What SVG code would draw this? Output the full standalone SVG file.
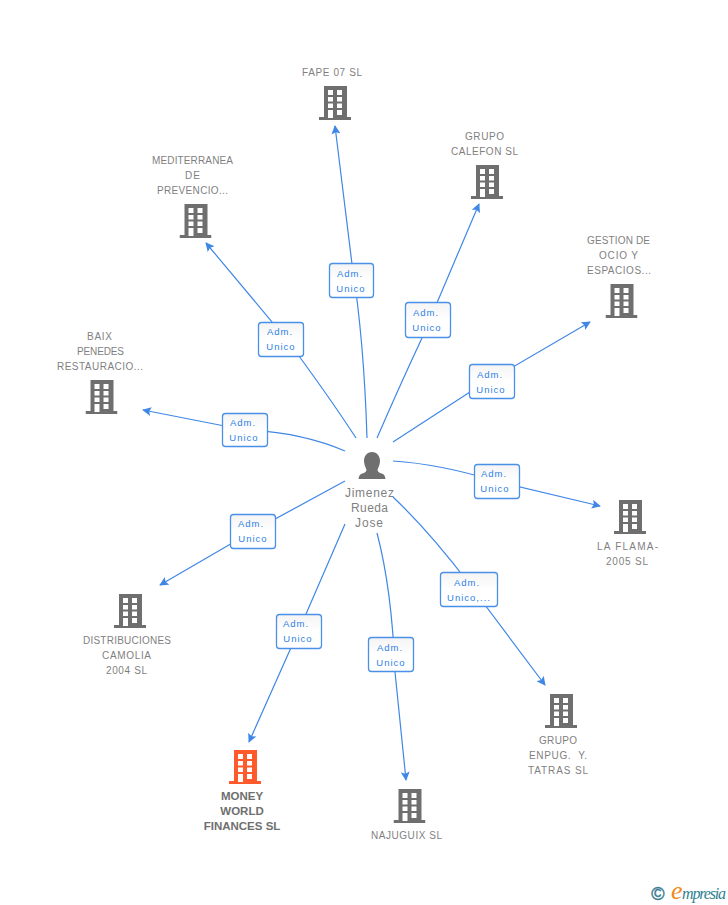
<svg xmlns="http://www.w3.org/2000/svg" width="728" height="905" viewBox="0 0 728 905">
<style>
text{font-family:"Liberation Sans",Arial,sans-serif}
.n{font-size:10px;fill:#7f7f7f;text-anchor:middle;white-space:pre}
.b{font-size:11.5px;font-weight:bold;fill:#6f6f6f;text-anchor:middle}
.p{font-size:12px;fill:#7f7f7f;text-anchor:middle}
.l{font-size:9.5px;fill:#2f7fe6;text-anchor:middle;letter-spacing:1px}
.c{fill:none;stroke:#3f87e6;stroke-width:1.2;marker-end:url(#a)}
.r{fill:url(#g);stroke:#4a90e8;stroke-width:1.3}
</style>
<defs>
<linearGradient id="g" x1="0" y1="0" x2="0" y2="1"><stop offset="0" stop-color="#f4f4f4"/><stop offset=".5" stop-color="#fff"/><stop offset="1" stop-color="#fff"/></linearGradient>
<marker id="a" viewBox="0 0 10 10" refX="9" refY="5" markerWidth="9" markerHeight="9" markerUnits="userSpaceOnUse" orient="auto"><path d="M0 0L10 5L0 10L2 5Z" fill="#3f87e6"/></marker>
<symbol id="bld" width="32" height="34" viewBox="0 0 32 34">
<path fill-rule="evenodd" d="M5 0H28V31H32V34H0V31H5ZM9 4V9H14V4ZM18 4V9H23V4ZM9 11V15.500H14V11ZM18 11V15.500H23V11ZM9 17.500V22H14V17.500ZM18 17.500V22H23V17.500ZM9 24V32H14V24ZM18 24V29H23V24Z"/>
</symbol>
</defs>
<rect width="728" height="905" fill="#fff"/>
<g id="connectors">
<path class="c" d="M367 438Q364 340 352 264L335 126"/>
<path class="c" d="M377 438Q400 385 422 338L479 204"/>
<path class="c" d="M393 442L470 392L590 322"/>
<path class="c" d="M393 461Q440 464 495 481L600 506"/>
<path class="c" d="M393 497Q430 532 470 585L545 685"/>
<path class="c" d="M377 533Q392 590 395 672L406 780"/>
<path class="c" d="M345 524L306 614L249 742"/>
<path class="c" d="M345 481L253 531L160 585"/>
<path class="c" d="M345 451Q300 432 245 430L143 410"/>
<path class="c" d="M356 438Q330 398 288 341L206 243"/>
</g>
<g id="labels">
<g><rect class="r" x="329.500" y="263.500" width="44" height="34" rx="3"/><text class="l" x="350" y="277">Adm.</text><text class="l" x="351" y="292">Unico</text></g>
<g><rect class="r" x="405.500" y="302.500" width="45" height="35" rx="3"/><text class="l" x="426" y="316">Adm.</text><text class="l" x="427" y="331">Unico</text></g>
<g><rect class="r" x="469.500" y="364.500" width="45" height="34" rx="3"/><text class="l" x="490" y="378">Adm.</text><text class="l" x="491" y="393">Unico</text></g>
<g><rect class="r" x="474.500" y="464.500" width="45" height="34" rx="3"/><text class="l" x="494" y="477">Adm.</text><text class="l" x="495" y="492">Unico</text></g>
<g><rect class="r" x="440.500" y="572.500" width="57" height="34" rx="3"/><text class="l" x="467" y="586">Adm.</text><text class="l" x="469" y="601">Unico,...</text></g>
<g><rect class="r" x="368.500" y="637.500" width="45" height="34" rx="3"/><text class="l" x="390" y="651">Adm.</text><text class="l" x="391" y="666">Unico</text></g>
<g><rect class="r" x="276.500" y="614.500" width="45" height="34" rx="3"/><text class="l" x="296" y="627">Adm.</text><text class="l" x="298" y="642">Unico</text></g>
<g><rect class="r" x="230.500" y="514.500" width="45" height="34" rx="3"/><text class="l" x="251" y="527">Adm.</text><text class="l" x="253" y="542">Unico</text></g>
<g><rect class="r" x="222.500" y="413.500" width="45" height="33" rx="3"/><text class="l" x="243" y="426">Adm.</text><text class="l" x="244" y="441">Unico</text></g>
<g><rect class="r" x="258.500" y="322.500" width="45" height="34" rx="3"/><text class="l" x="280" y="335">Adm.</text><text class="l" x="281" y="350">Unico</text></g>
</g>
<g id="person">
<path fill="#6f6f6f" d="M372 452C377 452 380 456 380 461C380 465 378 468 377.500 470C377.500 472 380 473 383 474C385 475 385 477 385.500 479H358.500C359 477 359 475 361 474C364 473 366.500 472 366.500 470C366 468 364 465 364 461C364 456 367 452 372 452Z"/>
<text class="p" x="369.500" y="497" textLength="49">Jimenez</text><text class="p" x="369.500" y="512" textLength="37">Rueda</text><text class="p" x="369" y="527" textLength="28">Jose</text>
</g>
<g id="n1" fill="#6f6f6f"><use href="#bld" x="319" y="86"/><text class="n" x="332" y="76" textLength="60">FAPE 07 SL</text></g>
<g id="n2" fill="#6f6f6f"><use href="#bld" x="471" y="165"/><text class="n" x="484.500" y="140" textLength="39">GRUPO</text><text class="n" x="484.500" y="155" textLength="67">CALEFON SL</text></g>
<g id="n3" fill="#6f6f6f"><use href="#bld" x="605.500" y="284"/><text class="n" x="618.500" y="244" textLength="63">GESTION DE</text><text class="n" x="618.500" y="259" textLength="39">OCIO Y</text><text class="n" x="619" y="274" textLength="64">ESPACIOS...</text></g>
<g id="n4" fill="#6f6f6f"><use href="#bld" x="179.500" y="204"/><text class="n" x="192.500" y="164" textLength="81">MEDITERRANEA</text><text class="n" x="192.500" y="179" textLength="15">DE</text><text class="n" x="192.500" y="194" textLength="71">PREVENCIO...</text></g>
<g id="n5" fill="#6f6f6f"><use href="#bld" x="85.500" y="380"/><text class="n" x="99.500" y="340" textLength="25">BAIX</text><text class="n" x="100.500" y="355" textLength="47">PENEDES</text><text class="n" x="100" y="370" textLength="86">RESTAURACIO...</text></g>
<g id="n6" fill="#6f6f6f"><use href="#bld" x="614" y="500"/><text class="n" x="627.500" y="550" textLength="61">LA FLAMA-</text><text class="n" x="627" y="565" textLength="42">2005 SL</text></g>
<g id="n7" fill="#6f6f6f"><use href="#bld" x="114" y="594"/><text class="n" x="127" y="644" textLength="88">DISTRIBUCIONES</text><text class="n" x="126.500" y="659" textLength="49">CAMOLIA</text><text class="n" x="126.500" y="674" textLength="41">2004 SL</text></g>
<g id="n8" fill="#ff5a2b"><use href="#bld" x="229" y="750"/><text class="b" x="242" y="800">MONEY</text><text class="b" x="242" y="815">WORLD</text><text class="b" x="242" y="830">FINANCES SL</text></g>
<g id="n9" fill="#6f6f6f"><use href="#bld" x="393.500" y="789"/><text class="n" x="406.500" y="839" textLength="71">NAJUGUIX SL</text></g>
<g id="n10" fill="#6f6f6f"><use href="#bld" x="545" y="694"/><text class="n" x="558" y="744" textLength="38">GRUPO</text><text class="n" x="558" y="759" textLength="58">ENPUG.  Y.</text><text class="n" x="558" y="774" textLength="60">TATRAS SL</text></g>
<g id="logo">
<text x="658" y="900" font-size="18" fill="#3f7f95" stroke="#3f7f95" stroke-width=".5" text-anchor="middle">©</text>
<text x="671" y="899" style="font-family:'Liberation Serif',serif" font-size="26" font-style="italic" fill="#f08a1d">e</text>
<text x="682" y="899" style="font-family:'Liberation Serif',serif" font-size="16" font-style="italic" fill="#2f7f8f" textLength="44">mpresia</text>
</g>
</svg>
